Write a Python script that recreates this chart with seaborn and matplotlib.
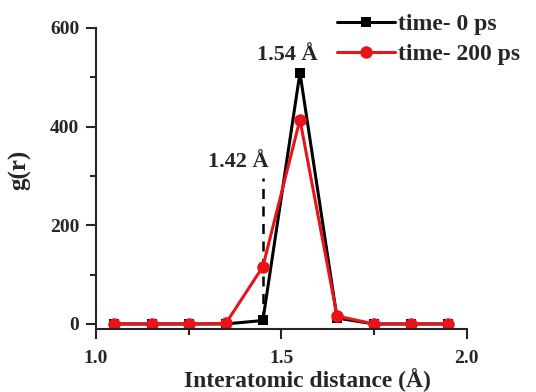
import numpy as np
import pandas as pd
import matplotlib
matplotlib.use("Agg")
import matplotlib.pyplot as plt
import seaborn as sns
from matplotlib.ticker import MultipleLocator

distance = [1.05, 1.15, 1.25, 1.35, 1.45, 1.55, 1.65, 1.75, 1.85, 1.95]
g_0ps = [0, 0, 0, 0, 7, 509, 12, 0, 0, 0]
g_200ps = [0, 0, 0, 1, 116, 414, 16, 0, 0, 0]
series_names = ["time- 0 ps", "time- 200 ps"]

df = pd.concat([
    pd.DataFrame({"r": distance, "g": g_0ps, "series": series_names[0]}),
    pd.DataFrame({"r": distance, "g": g_200ps, "series": series_names[1]}),
])

sns.set_style("ticks")
plt.rcParams['font.family'] = ['Liberation Serif', 'DejaVu Serif']
plt.rcParams['font.weight'] = 'bold'

fig = plt.figure(figsize=(5.36, 3.92), dpi=100)
ax = fig.add_axes([0.179, 0.161, 0.692, 0.768])

sns.lineplot(data=df, x="r", y="g", hue="series", style="series",
             palette={series_names[0]: "black", series_names[1]: "#e8141a"},
             markers={series_names[0]: "s", series_names[1]: "o"},
             dashes=False, linewidth=2.2, markersize=9, markeredgewidth=0,
             ax=ax, legend=True)
for ln in ax.lines:
    if ln.get_marker() == 's':
        ln.set_markersize(7.5)

ax.plot([1.45, 1.45], [5, 296], linestyle=(0, (4, 3)), color="black", linewidth=1.8, zorder=1)

ax.text(1.385, 328, "1.42 Å", ha="center", va="center", fontsize=16, fontweight="bold")
ax.text(1.515, 545, "1.54 Å", ha="center", va="center", fontsize=16, fontweight="bold")

ax.set_xlim(1.0, 2.0)
ax.set_ylim(-10, 600)
ax.set_xticks([1.0, 1.5, 2.0])
ax.set_xticklabels(["1.0", "1.5", "2.0"])
ax.xaxis.set_minor_locator(MultipleLocator(0.25))
ax.set_yticks([0, 200, 400, 600])
ax.yaxis.set_minor_locator(MultipleLocator(100))
ax.tick_params(axis="both", which="major", length=7, width=1.5, labelsize=14, direction="out")
ax.tick_params(axis="both", which="minor", length=4, width=1.5, direction="out")
ax.tick_params(axis="y", which="major", pad=5)
ax.tick_params(axis="x", which="major", pad=8)
for lab in ax.get_xticklabels() + ax.get_yticklabels():
    lab.set_fontweight("bold")
for s in ["left", "bottom"]:
    ax.spines[s].set_linewidth(1.5)
sns.despine(ax=ax)

ax.set_xlabel("Interatomic distance (Å)", fontsize=17, fontweight="bold")
ax.xaxis.label.set_va("center")
ax.xaxis.set_label_coords(0.569, -0.169)
ax.set_ylabel("g(r)", fontsize=18, fontweight="bold")
ax.yaxis.label.set_va("center")
ax.yaxis.set_label_coords(-0.205, 0.528)

handles, labels = ax.get_legend_handles_labels()
ax.legend(handles, labels, loc="upper left", bbox_to_anchor=(0.65, 1.048),
          frameon=False, prop={"weight": "bold", "size": 17},
          handlelength=2.45, handletextpad=0.15, labelspacing=0.36,
          borderaxespad=0, borderpad=0)

fig.savefig("out.png", dpi=100)
